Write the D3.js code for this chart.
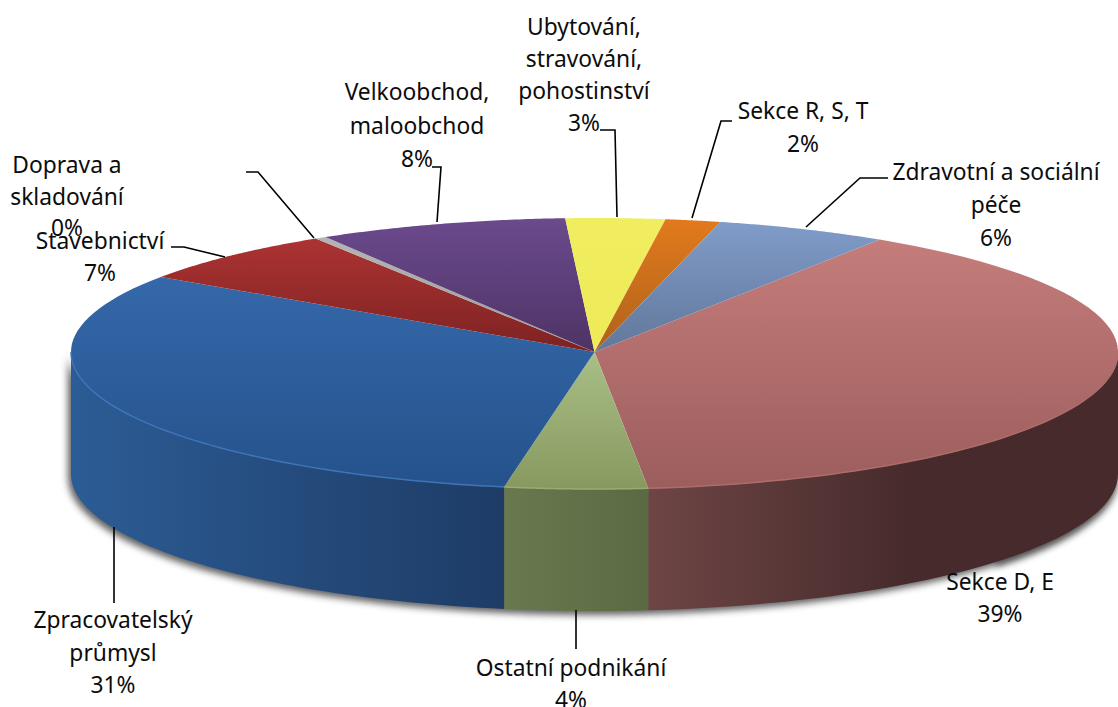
<!DOCTYPE html>
<html><head><meta charset="utf-8">
<script src="https://cdn.jsdelivr.net/npm/d3@7"></script>
<style>html,body{margin:0;background:#fff}svg{display:block}text{font-family:"Noto Sans",sans-serif;font-size:22.8px;fill:#0c0c0c}</style>
</head><body><svg id="c" width="1118" height="707"></svg>
<script>
const categories=["Sekce D, E","Ostatní podnikání","Zpracovatelský průmysl","Stavebnictví","Doprava a skladování","Velkoobchod, maloobchod","Ubytování, stravování, pohostinství","Sekce R, S, T","Zdravotní a sociální péče"];
const values=[39.2,4.4,31.7,6.6,0.35,7.7,3.06,1.7,5.3];
const percentLabels=["39%","4%","31%","7%","0%","8%","3%","2%","6%"];
const topLight=["#c47d7b","#a9bf87","#3568aa","#ac3333","#b5b5b5","#6b4a8d","#f0ee60","#e27a1c","#809cc9"];
const topDark =["#9c5d5d","#87995f","#25528b","#7e2222","#9a9a9a","#4e3365","#eeea58","#ae621c","#62779a"];
const wallLight=["#6e4545","#68794f","#2c5c95","#7a2a2a","#888888","#4a3460","#a09e40","#a05a18","#5a6c88"];
const wallDark =["#472b2c","#5a6b44","#1e3c66","#5e2020","#666666","#38264a","#807e30","#804810","#46546a"];
const rimColor =["#b06c6a","#98ad75","#3c75ba","#ac3333","#b5b5b5","#6b4a8d","#f0ee60","#e27a1c","#809cc9"];

const labelLines=[["Sekce D, E"],["Ostatní podnikání"],["Zpracovatelský","průmysl"],["Stavebnictví"],["Doprava a","skladování"],["Velkoobchod,","maloobchod"],["Ubytování,","stravování,","pohostinství"],["Sekce R, S, T"],["Zdravotní a sociální","péče"]];
const labelLayout=[[1000,582,32],[571,668,32],[113,620,32.5],[100,241,32],[67,165,31.5],[417,92,33.5],[584,27,32],[803,111,33],[996,172,33]];
const leaders=[null,[[576,610],[576,649]],[[114,527],[114,603]],[[171,247],[184,247],[225,257]],[[246,172],[258,172],[314,238]],[[432,167],[441,167],[437,222]],[[600,130],[615,130],[617,217]],[[732,121],[721,121],[692,218]],[[888,178],[860,178],[806,227]]];

const cx=594.5, cy=352, rx=523.5, ryBack=134, ryFront=137, depth=122;
const startDeg=33, rad=Math.PI/180;
const svg=d3.select("#c"), defs=svg.append("defs");
const arcs=d3.pie().sort(null).value(d=>d).startAngle(startDeg*rad).endAngle((startDeg+360)*rad)(values);
const px=a=>cx+rx*Math.sin(a);
const py=a=>{const c=Math.cos(a);return cy-(c>0?ryBack:ryFront)*c;};

const blur=defs.append("filter").attr("id","sh").attr("x","-10%").attr("y","-20%").attr("width","120%").attr("height","140%");
blur.append("feGaussianBlur").attr("stdDeviation",3.5);

arcs.forEach((d,i)=>{
  const g=defs.append("linearGradient").attr("id","t"+i).attr("x1",0).attr("y1",0).attr("x2",0).attr("y2",1);
  g.append("stop").attr("offset",0).attr("stop-color",topLight[i]);
  g.append("stop").attr("offset",1).attr("stop-color",topDark[i]);
  const w=defs.append("linearGradient").attr("id","w"+i).attr("x1",0).attr("y1",0).attr("x2",1).attr("y2",0);
  w.append("stop").attr("offset",0).attr("stop-color",wallLight[i]);
  w.append("stop").attr("offset",i===0?0.55:1).attr("stop-color",wallDark[i]);
});

const steps=(a0,a1)=>d3.range(0,61).map(k=>a0+(a1-a0)*k/60);
const rim=d3.line();
const wallPath=(a0,a1,dz)=>{
  const as=steps(a0,a1);
  return rim(as.map(a=>[px(a),py(a)]).concat(as.slice().reverse().map(a=>[px(a),py(a)+dz])))+"Z";
};
svg.append("path").attr("d",wallPath(90*rad,270*rad,depth+3)).attr("transform","translate(-3,1)").attr("fill","#444").attr("opacity",.85).attr("filter","url(#sh)");
svg.append("path").attr("d",wallPath(90*rad,130*rad,depth+3)).attr("transform","translate(0,2)").attr("fill","#444").attr("opacity",.7).attr("filter","url(#sh)");

const gWall=svg.append("g");
arcs.forEach((d,i)=>{
  const lo=Math.max(d.startAngle,90*rad), hi=Math.min(d.endAngle,270*rad);
  if(hi>lo) gWall.append("path").attr("d",wallPath(lo,hi,depth)).attr("fill",`url(#w${i})`);
});
const slicePath=d=>rim([[cx,cy]].concat(steps(d.startAngle,d.endAngle).map(a=>[px(a),py(a)])))+"Z";
svg.append("g").selectAll("path").data(arcs).join("path").attr("d",slicePath).attr("fill",(d,i)=>`url(#t${i})`);
arcs.forEach((d,i)=>{
  const lo=Math.max(d.startAngle,90*rad), hi=Math.min(d.endAngle,270*rad);
  if(hi>lo) svg.append("path").attr("d",rim(steps(lo,hi).map(a=>[px(a),py(a)]))).attr("fill","none").attr("stroke",rimColor[i]).attr("stroke-width",1.5);
});
leaders.forEach(l=>{ if(l) svg.append("path").attr("d",rim(l)).attr("fill","none").attr("stroke","#000").attr("stroke-width",1.6); });
labelLayout.forEach((p,i)=>{
  labelLines[i].concat(percentLabels[i]).forEach((t,k)=>svg.append("text").attr("x",p[0]).attr("y",p[1]+8+k*p[2]).attr("text-anchor","middle").text(t));
});
</script></body></html>
